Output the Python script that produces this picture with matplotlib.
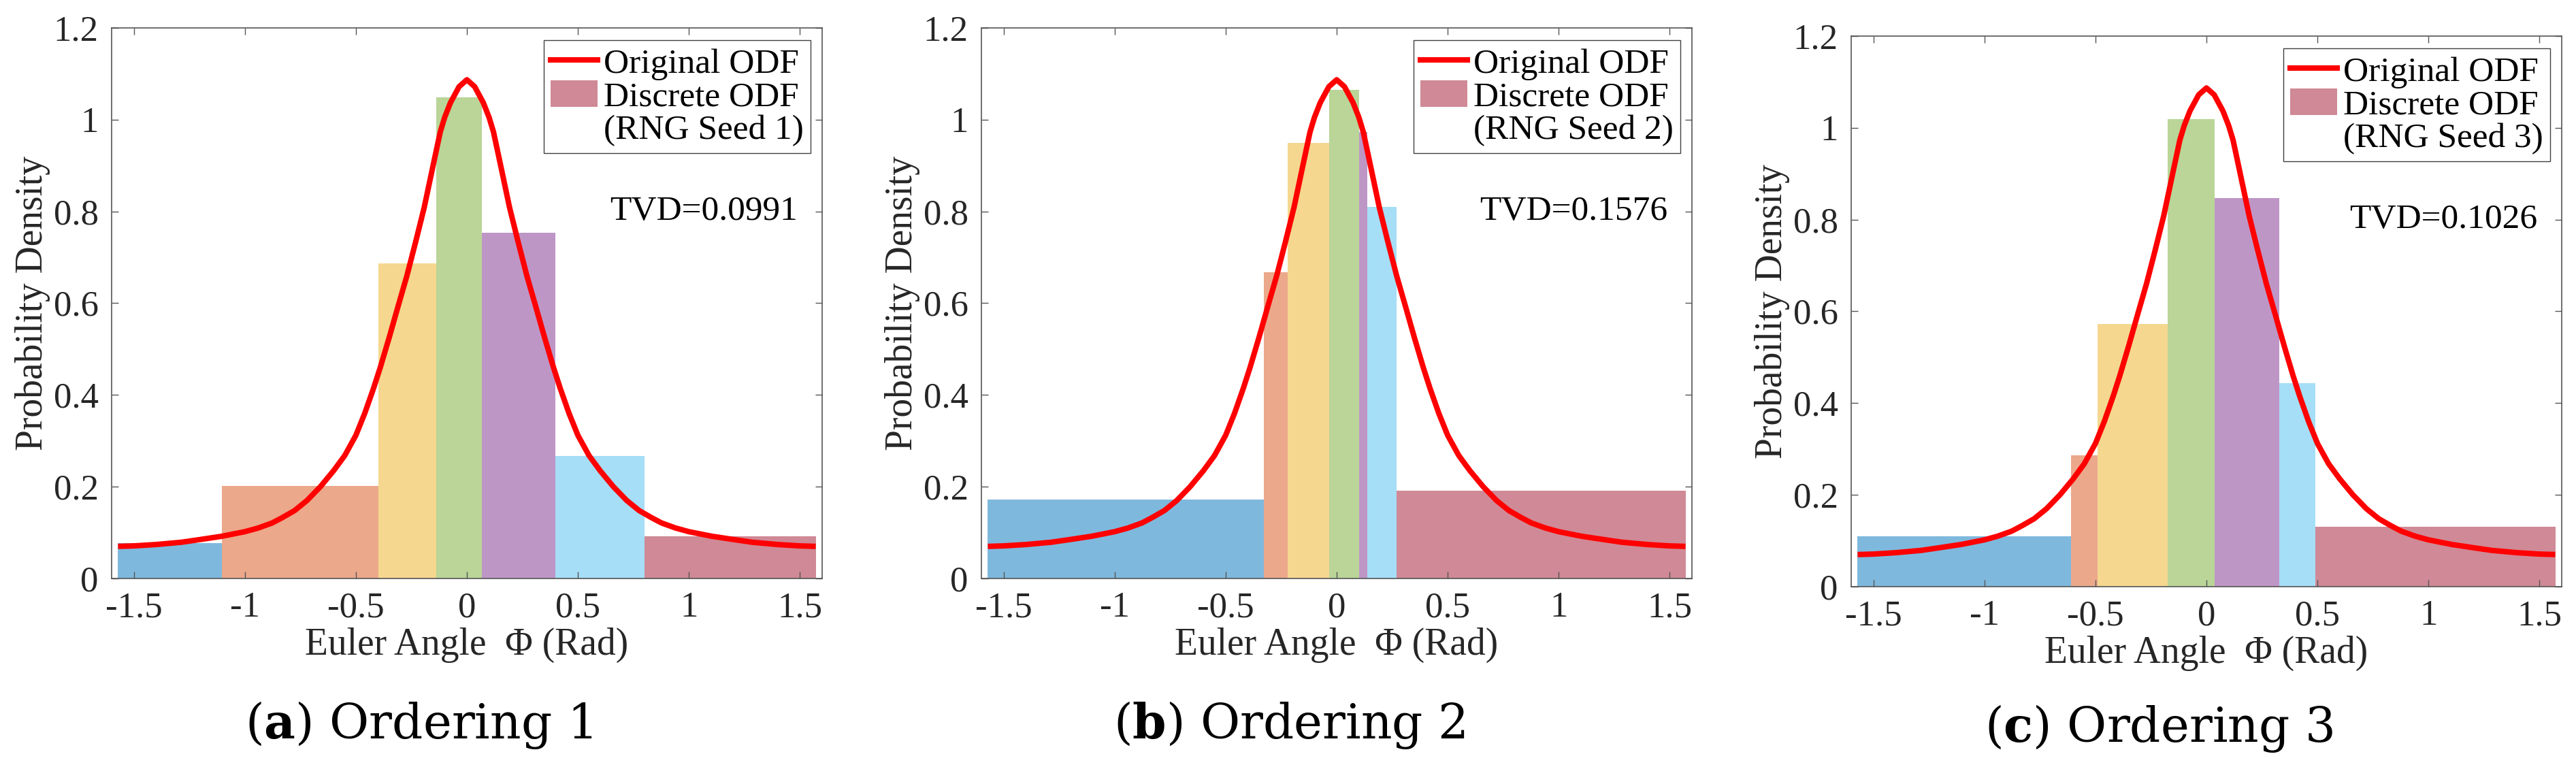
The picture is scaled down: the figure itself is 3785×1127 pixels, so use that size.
import matplotlib
matplotlib.use("Agg")
import matplotlib.pyplot as plt
from matplotlib.lines import Line2D
from matplotlib.patches import Patch
import numpy as np

plt.rcParams['font.family'] = ['Liberation Serif', 'DejaVu Serif']
plt.rcParams['mathtext.fontset'] = 'dejavuserif'
plt.rcParams['axes.unicode_minus'] = False

# bar colours (MATLAB default order, drawn half transparent)
bar_colors = ['#0072BD', '#D95319', '#EDB120', '#77AC30', '#7E2F8E', '#4DBEEE', '#A2142F']

# bin edges (rad) and heights
edges_a = [-1.571, -1.104, -0.398, -0.137, 0.066, 0.398, 0.799, 1.571]
heights_a = [0.077, 0.202, 0.687, 1.048, 0.754, 0.267, 0.092]

edges_b = [-1.571, -0.328, -0.220, -0.033, 0.101, 0.138, 0.270, 1.571]
heights_b = [0.172, 0.667, 0.950, 1.065, 0.973, 0.810, 0.192]

edges_c = [-1.571, -0.611, -0.489, -0.175, 0.036, 0.328, 0.490, 1.571]
heights_c = [0.110, 0.286, 0.573, 1.019, 0.847, 0.444, 0.131]

# original ODF curve
phi_curve = [-1.571, -1.500, -1.400, -1.285, -1.200, -1.104, -1.000, -0.940,
             -0.877, -0.830, -0.776, -0.720, -0.660, -0.600, -0.550, -0.500,
             -0.460, -0.420, -0.390, -0.350, -0.310, -0.270, -0.230, -0.192,
             -0.150, -0.120, -0.100, -0.074, -0.035, 0.000,
             0.035, 0.074, 0.100, 0.120, 0.150, 0.192, 0.230, 0.270,
             0.310, 0.350, 0.390, 0.420, 0.460, 0.500, 0.550, 0.600,
             0.660, 0.720, 0.776, 0.830, 0.877, 0.940, 1.000, 1.104,
             1.200, 1.285, 1.400, 1.500, 1.571]
odf_curve = [0.070, 0.071, 0.074, 0.079, 0.085, 0.092, 0.102, 0.110,
             0.121, 0.133, 0.148, 0.170, 0.200, 0.235, 0.268, 0.312,
             0.360, 0.415, 0.460, 0.525, 0.593, 0.660, 0.735, 0.809,
             0.905, 0.973, 1.005, 1.037, 1.072, 1.087,
             1.072, 1.037, 1.005, 0.973, 0.905, 0.809, 0.735, 0.660,
             0.593, 0.525, 0.460, 0.415, 0.360, 0.312, 0.268, 0.235,
             0.200, 0.170, 0.148, 0.133, 0.121, 0.110, 0.102, 0.092,
             0.085, 0.079, 0.074, 0.071, 0.070]

tvd_values = ['0.0991', '0.1576', '0.1026']
seeds = ['1', '2', '3']
captions = ['a', 'b', 'c']

x_ticks = [-1.5, -1, -0.5, 0, 0.5, 1, 1.5]
x_ticklabels = ['-1.5', '-1', '-0.5', '0', '0.5', '1', '1.5']
y_ticks = [0, 0.2, 0.4, 0.6, 0.8, 1.0, 1.2]
y_ticklabels = ['0', '0.2', '0.4', '0.6', '0.8', '1', '1.2']

W, H = 3785, 1127
fig = plt.figure(figsize=(W / 100, H / 100), dpi=100)

# axes boxes in pixels: left, top
boxes = [(164, 41), (1442, 41), (2720, 53)]
ax_w, ax_h = 1044, 809
caption_x = [615, 1894, 3172]
caption_base = [1085, 1085, 1090]

all_edges = [edges_a, edges_b, edges_c]
all_heights = [heights_a, heights_b, heights_c]
axis_col = '#555555'

for i in range(3):
    left, top = boxes[i]
    ax = fig.add_axes([left / W, (H - top - ax_h) / H, ax_w / W, ax_h / H])
    e = np.array(all_edges[i])
    ax.bar(e[:-1], all_heights[i], width=np.diff(e), align='edge',
           color=bar_colors, alpha=0.5, linewidth=0, zorder=1)
    ax.plot(phi_curve, odf_curve, color='#FF0000', lw=5.8, zorder=3,
            solid_capstyle='butt', solid_joinstyle='round')

    ax.set_xlim(-1.6, 1.6)
    ax.set_ylim(0, 1.2)
    ax.set_xticks(x_ticks)
    ax.set_xticklabels(x_ticklabels)
    ax.set_yticks(y_ticks)
    ax.set_yticklabels(y_ticklabels)
    ax.tick_params(direction='in', top=True, right=True, length=7, width=1,
                   color=axis_col, labelsize=38, pad=14, labelcolor='#262626')
    for s in ax.spines.values():
        s.set_color(axis_col)
        s.set_linewidth(1.2)
        s.set_zorder(4)

    ax.set_xlabel('Euler Angle  \u03a6 (Rad)', fontsize=40, color='#262626', labelpad=3)
    ax.set_ylabel('Probability Density', fontsize=40, color='#262626')
    ax.yaxis.set_label_coords(-0.086, 0.5)

    ax.text(1.49, 0.8, 'TVD=' + tvd_values[i], fontsize=37, ha='right',
            va='center', color='black')

    handles = [Line2D([], [], color='#FF0000', lw=5.8),
               Patch(facecolor=bar_colors[-1], alpha=0.5, linewidth=0),
               Patch(facecolor='none', edgecolor='none')]
    labels = ['Original ODF', 'Discrete ODF', '(RNG Seed ' + seeds[i] + ')']
    leg = ax.legend(handles, labels, loc='upper right',
                    bbox_to_anchor=(0.9837, 0.9778), borderaxespad=0,
                    fontsize=37, handlelength=1.33, handleheight=0.8,
                    handletextpad=0.18, borderpad=0.2, labelspacing=0.0,
                    fancybox=False, framealpha=1, edgecolor='#404040')
    leg.get_frame().set_linewidth(1.0)
    leg.set_zorder(5)

    fig.text(caption_x[i] / W, 1 - caption_base[i] / H,
             '($\\mathbf{' + captions[i] + '}$) Ordering ' + seeds[i],
             ha='center', va='baseline', fontsize=51, family='DejaVu Serif')

fig.savefig('out.png', dpi=100)
